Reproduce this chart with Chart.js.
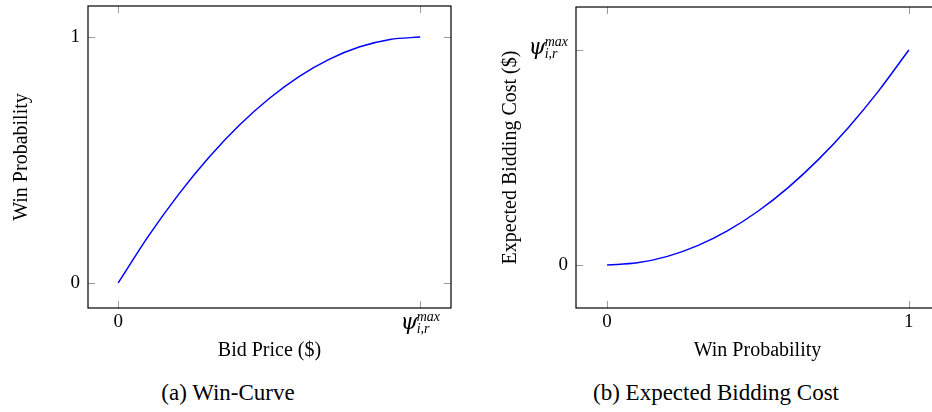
<!DOCTYPE html>
<html>
<head>
<meta charset="utf-8">
<script src="https://cdn.jsdelivr.net/npm/chart.js@4/dist/chart.umd.min.js"></script>
<style>
  html, body { margin: 0; padding: 0; background: #fff; overflow: hidden; }
  body { width: 932px; height: 412px; position: relative; }
  .plot { position: absolute; top: 0; }
  .caption {
    position: absolute; top: 380px; font-family: 'Liberation Serif', serif;
    font-size: 23px; color: #000; transform: translateX(-50%); white-space: nowrap;
  }
</style>
</head>
<body>
<div class="plot" style="left:0;width:470px;height:365px"><canvas id="win-curve"></canvas></div>
<div class="plot" style="left:466px;width:480px;height:365px"><canvas id="bid-cost"></canvas></div>
<div class="caption" style="left:228px">(a) Win-Curve</div>
<div class="caption" style="left:716px">(b) Expected Bidding Cost</div>

<script>
// (a) win probability vs bid price (bid price in units of psi max)
const bidPrice = [0, 0.1, 0.2, 0.3, 0.4, 0.5, 0.6, 0.7, 0.8, 0.9, 1.0];
const winProb = [0, 0.19, 0.36, 0.51, 0.64, 0.75, 0.84, 0.91, 0.96, 0.99, 1.0];

// (b) expected bidding cost (units of psi max) vs win probability
const winProbX = [0, 0.1, 0.2, 0.3, 0.4, 0.5, 0.6, 0.7, 0.8, 0.9, 1.0];
const biddingCost = [0, 0.01, 0.04, 0.09, 0.16, 0.25, 0.36, 0.49, 0.64, 0.81, 1.0];

const tickValues = [0, 1];

Chart.defaults.font.family = "'Liberation Serif', serif";
Chart.defaults.color = '#000';

// pgfplots-like frame with inward ticks on all four sides
const framePlugin = {
  id: 'frame',
  afterDraw(chart) {
    const { ctx, chartArea: { left, right, top, bottom }, scales: { x, y } } = chart;
    ctx.save();
    ctx.strokeStyle = '#9a9a9a';
    ctx.lineWidth = 1;
    ctx.beginPath();
    x.ticks.forEach(t => {
      const px = Math.round(x.getPixelForValue(t.value)) + 0.5;
      ctx.moveTo(px, top); ctx.lineTo(px, top + 7);
      ctx.moveTo(px, bottom); ctx.lineTo(px, bottom - 7);
    });
    y.ticks.forEach(t => {
      const py = Math.round(y.getPixelForValue(t.value)) + 0.5;
      ctx.moveTo(left, py); ctx.lineTo(left + 7, py);
      ctx.moveTo(right, py); ctx.lineTo(right - 7, py);
    });
    ctx.stroke();
    ctx.strokeStyle = '#000';
    ctx.lineWidth = 1.2;
    ctx.strokeRect(left, top, right - left, bottom - top);
    ctx.restore();
  }
};

// draws psi_{i,r}^{max}; (ax, ay) = anchor, mode 'below' (x tick) or 'left' (y tick)
function drawPsi(ctx, ax, ay, mode) {
  ctx.save();
  ctx.fillStyle = '#000';
  ctx.textBaseline = 'alphabetic';
  ctx.textAlign = 'left';
  const big = "italic 22px 'DejaVu Serif', 'Liberation Serif', serif";
  const small = "italic 14px 'Liberation Serif', serif";
  ctx.font = big;
  const wPsi = ctx.measureText('ψ').width;
  ctx.font = small;
  const wSup = ctx.measureText('max').width;
  const wSub = ctx.measureText('i,r').width;
  const total = wPsi + Math.max(wSup, wSub) - 1;
  let x0, base;
  if (mode === 'below') { x0 = ax - total / 2; base = ay + 21; }
  else { x0 = ax - total; base = ay + 4; }
  ctx.font = big;
  ctx.fillText('ψ', x0, base);
  ctx.font = small;
  ctx.fillText('max', x0 + wPsi - 1, base - 8);
  ctx.fillText('i,r', x0 + wPsi - 1, base + 4);
  ctx.restore();
}

function lineDataset(xs, ys) {
  return {
    data: xs.map((v, i) => ({ x: v, y: ys[i] })),
    borderColor: '#0000ff',
    borderWidth: 1.5,
    pointRadius: 0,
    fill: false,
    cubicInterpolationMode: 'monotone'
  };
}

function axis(opts) {
  return {
    type: 'linear',
    min: opts.min,
    max: opts.max,
    afterBuildTicks: s => { s.ticks = tickValues.map(v => ({ value: v })); },
    afterFit: s => {
      if (opts.width) s.width = opts.width;
      if (opts.height) s.height = opts.height;
      // ticks are not at the edges, so no extra room for half labels
      s.paddingTop = s.paddingBottom = s.paddingLeft = s.paddingRight = 0;
    },
    grid: { display: false, drawTicks: false },
    border: { display: false },
    ticks: { padding: opts.tickPad, font: { size: 19 }, color: '#000', maxRotation: 0, callback: opts.label },
    title: { display: true, text: opts.title, font: { size: 20 }, color: '#000', padding: opts.titlePad }
  };
}

// (a) Win-Curve
new Chart(document.getElementById('win-curve'), {
  type: 'line',
  data: { datasets: [lineDataset(bidPrice, winProb)] },
  options: {
    responsive: true,
    maintainAspectRatio: false,
    animation: false,
    layout: { padding: { top: 6, right: 19, left: 0, bottom: 0 } },
    plugins: { legend: { display: false }, tooltip: { enabled: false } },
    scales: {
      x: axis({ min: -0.1, max: 1.102, height: 57, tickPad: 3, title: 'Bid Price ($)',
        titlePad: { bottom: 2 }, label: v => v === 0 ? '0' : '' }),
      y: axis({ min: -0.102, max: 1.126, width: 88, tickPad: 8, title: 'Win Probability',
        titlePad: { top: 10 }, label: v => String(v) })
    }
  },
  plugins: [framePlugin, {
    id: 'psiX',
    afterDraw(chart) {
      const x = chart.scales.x;
      drawPsi(chart.ctx, x.getPixelForValue(1), chart.chartArea.bottom, 'below');
    }
  }]
});

// (b) Expected Bidding Cost
new Chart(document.getElementById('bid-cost'), {
  type: 'line',
  data: { datasets: [lineDataset(winProbX, biddingCost)] },
  options: {
    responsive: true,
    maintainAspectRatio: false,
    animation: false,
    layout: { padding: { top: 7, right: 7, left: 0, bottom: 0 } },
    plugins: { legend: { display: false }, tooltip: { enabled: false } },
    scales: {
      x: axis({ min: -0.103, max: 1.1, height: 57, tickPad: 3, title: 'Win Probability',
        titlePad: { bottom: 2 }, label: v => String(v) }),
      y: axis({ min: -0.2, max: 1.2, width: 110, tickPad: 8, title: 'Expected Bidding Cost ($)',
        titlePad: { top: 33 }, label: v => v === 0 ? '0' : '' })
    }
  },
  plugins: [framePlugin, {
    id: 'psiY',
    afterDraw(chart) {
      const y = chart.scales.y;
      drawPsi(chart.ctx, chart.chartArea.left - 8, y.getPixelForValue(1), 'left');
    }
  }]
});
</script>
</body>
</html>
